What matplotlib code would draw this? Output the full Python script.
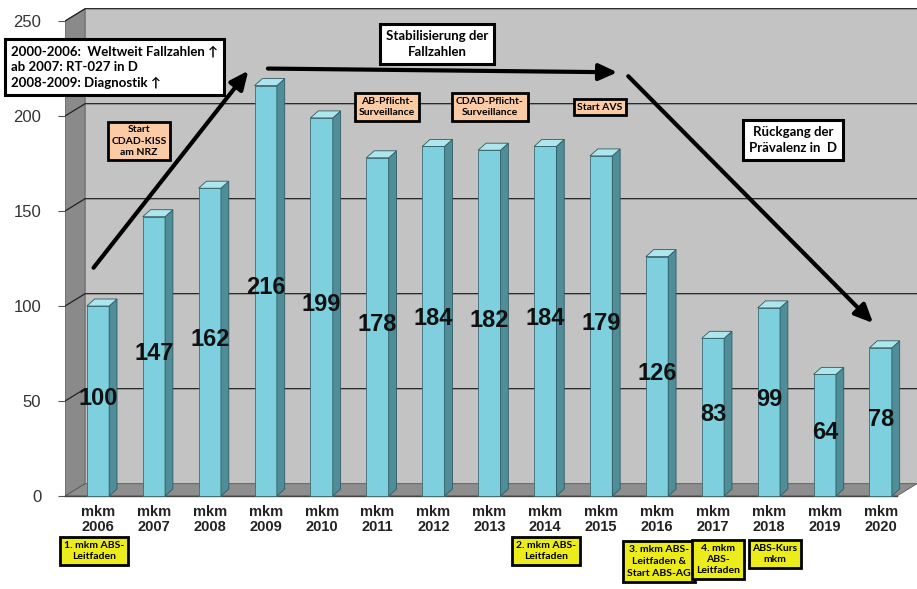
import matplotlib.pyplot as plt
from matplotlib.patches import Polygon, Rectangle

# ── data ──────────────────────────────────────────────────────────────────────
years  = ["2006", "2007", "2008", "2009", "2010", "2011", "2012", "2013",
          "2014", "2015", "2016", "2017", "2018", "2019", "2020"]
values = [100, 147, 162, 216, 199, 178, 184, 182, 184, 179, 126, 83, 99, 64, 78]
labels = ["mkm\n" + y for y in years]

# ── fake 3D geometry (data units) ────────────────────────────────────────────
X0, X1   = -0.59, 14.65      # front-left / right edge of plot area
DX, DY   = 0.36, 6.5         # wall depth offset
BW       = 0.40              # bar front width
BDX, BDY = 0.14, 3.7         # bar depth offset

WALL  = "#c3c3c3"
LWALL = "#8a8a8a"
FLOOR = "#8e8e8e"
FRONT = "#7fd0de"
SIDE  = "#4f8e99"
TOP   = "#aee6ee"

plt.rcParams["font.family"] = ["Liberation Sans", "DejaVu Sans"]
BOXFONT = ["Lato", "DejaVu Sans"]

fig = plt.figure(figsize=(9.17, 5.89), dpi=100)
ax = fig.add_axes([65 / 917, 0.1514, 1 - 65 / 917, 0.8387])
ax.set_xlim(X0, X1)
ax.set_ylim(-2, 258)
for s in ax.spines.values():
    s.set_visible(False)

# walls + floor
ax.add_patch(Rectangle((X0 + DX, DY), X1 - X0 - DX, 250, fc=WALL, ec="none", zorder=0))
ax.add_patch(Polygon([(X0, 0), (X0 + DX, DY), (X0 + DX, 250 + DY), (X0, 250)],
                     fc=LWALL, ec="#555555", lw=0.6, zorder=0))
ax.add_patch(Polygon([(X0, 0), (X1 - DX, 0), (X1, DY), (X0 + DX, DY)],
                     fc=FLOOR, ec="#555555", lw=0.6, zorder=1))
for v in range(50, 251, 50):
    ax.plot([X0, X0 + DX, X1], [v, v + DY, v + DY], color="#222222", lw=0.9, zorder=1)
ax.plot([X0, X1 - DX], [0, 0], color="#444444", lw=1.0, zorder=2, clip_on=False)

# bars
xs = list(range(len(values)))
ax.bar(xs, values, width=BW, color=FRONT, edgecolor="#3d6b73", lw=0.6, zorder=3)
for x, v in zip(xs, values):
    r = x + BW / 2
    l = x - BW / 2
    ax.add_patch(Polygon([(r, 0), (r + BDX, BDY), (r + BDX, v + BDY), (r, v)],
                         fc=SIDE, ec="#2f5a61", lw=0.6, zorder=3))
    ax.add_patch(Polygon([(l, v), (l + BDX, v + BDY), (r + BDX, v + BDY), (r, v)],
                         fc=TOP, ec="#2f5a61", lw=0.6, zorder=3))
    ax.text(x, v / 2 + 1.5, str(v), ha="center", va="center", fontsize=17,
            fontweight="bold", color="#111111", zorder=5)

# axes ticks
ax.set_yticks(range(0, 251, 50))
ax.tick_params(axis="y", length=5, pad=12, labelsize=12, labelcolor="#333333", color="#555555")
ax.set_xticks(xs)
ax.set_xticklabels(labels, fontsize=10.5, fontweight="bold", color="#222222", linespacing=1.05)
ax.tick_params(axis="x", length=0, pad=4)

# arrows
arrow_kw = dict(arrowstyle="-|>,head_length=1.1,head_width=0.5", color="black", lw=3)
ax.annotate("", xy=(2.72, 225), xytext=(-0.11, 119), arrowprops=arrow_kw, zorder=6)
ax.annotate("", xy=(9.34, 223), xytext=(2.99, 225), arrowprops=arrow_kw, zorder=6)
ax.annotate("", xy=(13.9, 90), xytext=(9.45, 222), arrowprops=arrow_kw, zorder=6)


def px(x, y):
    return x / 917, 1 - y / 589


white = dict(boxstyle="square,pad=0.45", fc="white", ec="black", lw=2.2)
peach = dict(boxstyle="square,pad=0.35", fc="#fbcba6", ec="black", lw=2)
yellow = dict(boxstyle="square,pad=0.35", fc="#ecec1c", ec="black", lw=2)

fig.text(*px(11, 67), "2000-2006:  Weltweit Fallzahlen \u2191\nab 2007: RT-027 in D\n2008-2009: Diagnostik \u2191",
         ha="left", va="center", fontsize=9.5, fontweight="bold", family=BOXFONT,
         bbox=dict(white, pad=0.5), linespacing=1.35, zorder=10)
fig.text(*px(437, 44), "Stabilisierung der\nFallzahlen", ha="center", va="center",
         fontsize=9.5, fontweight="bold", family=BOXFONT, bbox=dict(white, pad=1.0),
         linespacing=1.4, zorder=10)
fig.text(*px(793, 140), "R\u00fcckgang der\nPr\u00e4valenz in  D", ha="center", va="center",
         fontsize=9.5, fontweight="bold", family=BOXFONT, bbox=dict(white, pad=1.1),
         linespacing=1.4, zorder=10)

peach_boxes = [((139, 141), "Start\nCDAD-KISS\nam NRZ", 0.35),
               ((387, 107), "AB-Pflicht-\nSurveillance", 0.35),
               ((490, 107), "CDAD-Pflicht-\nSurveillance", 0.35),
               ((600, 107), "Start AVS", 0.8)]
for (x, y), txt, pad in peach_boxes:
    fig.text(*px(x, y), txt, ha="center", va="center", fontsize=7.5, fontweight="bold",
             family=BOXFONT, bbox=dict(peach, pad=pad), linespacing=1.3, zorder=10)

yellow_boxes = [((94, 541), "1. mkm ABS-\nLeitfaden", 1.3),
                ((546, 541), "2. mkm ABS-\nLeitfaden", 1.3),
                ((659, 545), "3. mkm ABS-\nLeitfaden &\nStart ABS-AG", 1.45),
                ((718, 544), "4. mkm\nABS-\nLeitfaden", 1.3),
                ((775, 544), "ABS-Kurs\nmkm", 1.3)]
for (x, y), txt, ls in yellow_boxes:
    fig.text(*px(x, y), txt, ha="center", va="top", fontsize=7.5, fontweight="bold",
             family=BOXFONT, bbox=yellow, linespacing=ls)

fig.savefig("out.png", dpi=100)
